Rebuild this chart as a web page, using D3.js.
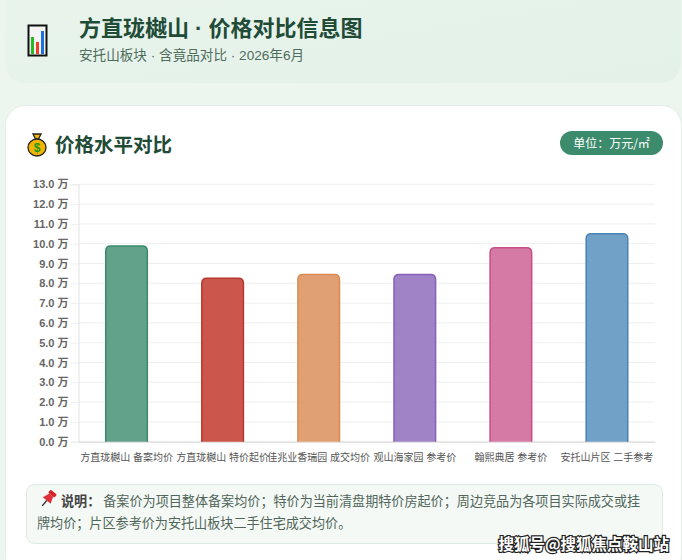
<!DOCTYPE html>
<html>
<head>
<meta charset="utf-8">
<script src="https://cdn.jsdelivr.net/npm/d3@7"></script>
<style>
  html, body { margin: 0; padding: 0; background: #edf5ef; }
  svg { display: block; }
</style>
</head>
<body>
<div id="chart"></div>
<script>
// chart values
const categories = ["方直珑樾山 备案均价", "方直珑樾山 特价起价", "佳兆业香瑞园 成交均价", "观山海家园 参考价", "翰熙典居 参考价", "安托山片区 二手参考"];
const prices = [9.88, 8.25, 8.45, 8.45, 9.8, 10.5];
const fills = ["#62a28a", "#cb574c", "#e0a074", "#a083c6", "#d57aa5", "#72a1c8"];
const strokes = ["#3b8a6b", "#b7372e", "#dc8a52", "#8760b7", "#c74d88", "#4b82b5"];
const yTicks = d3.range(0, 14, 1);

const titleText = "方直珑樾山 · 价格对比信息图";
const subtitleText = "安托山板块 · 含竟品对比 · 2026年6月";
const sectionText = "价格水平对比";
const unitText = "单位：万元/㎡";
const noteLines = ["备案价为项目整体备案均价；特价为当前清盘期特价房起价；周边竞品为各项目实际成交或挂", "牌均价；片区参考价为安托山板块二手住宅成交均价。"];

const W = 682, H = 560;
const cjk = "'Liberation Sans', Arial, 'Noto Sans CJK SC', sans-serif";

const svg = d3.select("#chart").append("svg")
    .attr("width", W)
    .attr("height", H);

const defs = svg.append("defs");
const grad = defs.append("linearGradient").attr("id", "headGrad")
    .attr("x1", 0).attr("y1", 0).attr("x2", 1).attr("y2", 1);
grad.append("stop").attr("offset", "0%").attr("stop-color", "#e8f4ec");
grad.append("stop").attr("offset", "100%").attr("stop-color", "#e4f1e8");

// header card
svg.append("rect")
    .attr("x", 5).attr("y", -30).attr("width", 676).attr("height", 113)
    .attr("rx", 20)
    .attr("fill", "url(#headGrad)");

// bar-chart icon
const icon = svg.append("g");
icon.append("rect").attr("x", 28.5).attr("y", 25.5).attr("width", 18).attr("height", 30)
    .attr("fill", "#f4f4f4").attr("stroke", "#111").attr("stroke-width", 2);
icon.append("rect").attr("x", 31).attr("y", 37).attr("width", 3).attr("height", 17).attr("fill", "#22bb22");
icon.append("rect").attr("x", 36).attr("y", 42).attr("width", 3).attr("height", 12).attr("fill", "#f04020");
icon.append("rect").attr("x", 41).attr("y", 31).attr("width", 3).attr("height", 23).attr("fill", "#1a70e0");

svg.append("text")
    .attr("x", 79).attr("y", 36)
    .attr("font-family", cjk)
    .attr("font-weight", 700)
    .attr("font-size", 22)
    .attr("fill", "#1f4b37")
    .text(titleText);

svg.append("text")
    .attr("x", 79).attr("y", 60)
    .attr("font-family", cjk)
    .attr("font-size", 13.6)
    .attr("fill", "#4f6c5c")
    .text(subtitleText);

// main card
svg.append("rect")
    .attr("x", 5.5).attr("y", 105.5).attr("width", 676).attr("height", 470)
    .attr("rx", 20)
    .attr("fill", "#ffffff")
    .attr("stroke", "#e0eee5");

// money bag icon
const bag = svg.append("g");
bag.append("path")
    .attr("d", "M33,134 L41,134 L38.5,139 L35.5,139 Z")
    .attr("fill", "#f3b400").attr("stroke", "#222").attr("stroke-width", 1.3);
bag.append("ellipse").attr("cx", 37).attr("cy", 147.5).attr("rx", 9).attr("ry", 8.5)
    .attr("fill", "#f3b400").attr("stroke", "#222").attr("stroke-width", 1.3);
bag.append("text").attr("x", 37).attr("y", 152).attr("text-anchor", "middle")
    .attr("font-family", cjk).attr("font-size", 12).attr("font-weight", 700)
    .attr("fill", "#1a9a20").text("$");

svg.append("text")
    .attr("x", 55).attr("y", 152)
    .attr("font-family", "'Noto Sans CJK SC', sans-serif")
    .attr("font-weight", 700)
    .attr("font-size", 19.5)
    .attr("fill", "#1f4b37")
    .text(sectionText);

// unit badge
svg.append("rect")
    .attr("x", 560).attr("y", 131).attr("width", 103).attr("height", 24)
    .attr("rx", 12)
    .attr("fill", "#3d8b6d");
svg.append("text")
    .attr("x", 611.5).attr("y", 147.5)
    .attr("text-anchor", "middle")
    .attr("font-family", "'Noto Sans CJK SC', sans-serif")
    .attr("font-size", 12)
    .attr("fill", "#ffffff")
    .text(unitText);

// chart area
const plot = {left: 78.5, right: 655, top: 184.3, bottom: 441.7};

const x = d3.scaleBand()
    .domain(categories)
    .range([plot.left, plot.right])
    .paddingInner(0.567)
    .paddingOuter(0.2835);

const y = d3.scaleLinear()
    .domain([0, 13])
    .range([plot.bottom, plot.top]);

// gridlines
svg.append("g")
    .selectAll("line")
    .data(yTicks)
    .join("line")
    .attr("x1", plot.left).attr("x2", plot.right)
    .attr("y1", d => y(d)).attr("y2", d => y(d))
    .attr("stroke", "#efefef");

// y axis
const yAxis = svg.append("g")
    .attr("transform", `translate(${plot.left},0)`)
    .call(d3.axisLeft(y).tickValues(yTicks).tickSize(8).tickPadding(2).tickFormat(d => d3.format(".1f")(d) + " 万"));
yAxis.select(".domain").attr("stroke", "#e2e2e2");
yAxis.selectAll(".tick line").attr("stroke", "#efefef");
yAxis.selectAll("text")
    .attr("font-family", cjk)
    .attr("font-size", 11)
    .attr("font-weight", 700)
    .attr("fill", "#666");

// x axis
const xAxis = svg.append("g")
    .attr("transform", `translate(0,${plot.bottom})`)
    .call(d3.axisBottom(x).tickSize(0).tickPadding(12));
xAxis.select(".domain").attr("stroke", "#d8d8d8");
xAxis.selectAll("text")
    .attr("font-family", cjk)
    .attr("font-size", 10)
    .attr("fill", "#555");

// bars, rounded top corners
function barPath(d) {
    const bx = x(d.cat), bw = x.bandwidth();
    const top = y(d.val), base = y(0), r = 5;
    return `M${bx},${base} L${bx},${top + r} Q${bx},${top} ${bx + r},${top} ` +
        `L${bx + bw - r},${top} Q${bx + bw},${top} ${bx + bw},${top + r} L${bx + bw},${base}`;
}

svg.append("g")
    .selectAll("path")
    .data(categories.map((c, i) => ({cat: c, val: prices[i], i: i})))
    .join("path")
    .attr("d", barPath)
    .attr("fill", d => fills[d.i])
    .attr("stroke", d => strokes[d.i])
    .attr("stroke-width", 1.5);

// note box
svg.append("rect")
    .attr("x", 26.5).attr("y", 484.5).attr("width", 636).attr("height", 59)
    .attr("rx", 8)
    .attr("fill", "#f4f9f5")
    .attr("stroke", "#dcebe0");

// pushpin icon
const pin = svg.append("g").attr("transform", "translate(48,499) rotate(40)");
pin.append("rect").attr("x", -4).attr("y", -9).attr("width", 8).attr("height", 4).attr("rx", 1).attr("fill", "#d3222a");
pin.append("path").attr("d", "M-2.5,-5 L2.5,-5 L5,2 L-5,2 Z").attr("fill", "#e0313a");
pin.append("line").attr("x1", 0).attr("y1", 2).attr("x2", 0).attr("y2", 9).attr("stroke", "#333").attr("stroke-width", 1.4);

const note = svg.append("text")
    .attr("font-family", "'Noto Sans CJK SC', sans-serif")
    .attr("font-size", 13.1)
    .attr("fill", "#51655a");
note.append("tspan").attr("x", 61).attr("y", 506)
    .attr("font-weight", 700).attr("fill", "#444").text("说明：");
note.append("tspan").attr("dx", 3).text(noteLines[0]);
note.append("tspan").attr("x", 37).attr("y", 528).text(noteLines[1]);

// watermark
svg.append("text")
    .attr("x", 669).attr("y", 550)
    .attr("text-anchor", "end")
    .attr("font-family", "'Noto Sans CJK SC', sans-serif")
    .attr("font-weight", 700)
    .attr("font-size", 15.5)
    .attr("fill", "#ffffff")
    .attr("stroke", "#222")
    .attr("stroke-width", 2.4)
    .attr("paint-order", "stroke")
    .text("搜狐号@搜狐焦点鞍山站");
</script>
</body>
</html>
